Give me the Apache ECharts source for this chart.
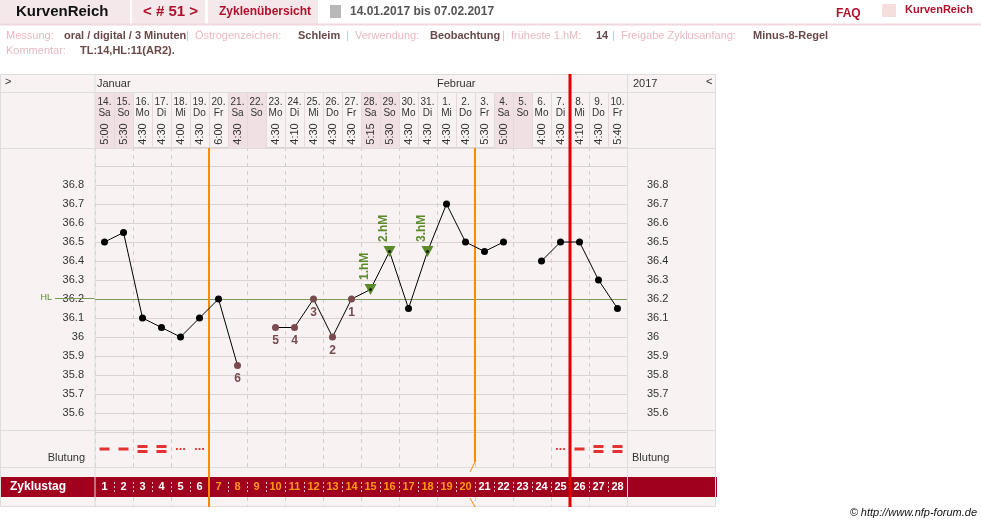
<!DOCTYPE html>
<html><head><meta charset="utf-8">
<script src="https://cdn.jsdelivr.net/npm/echarts@6/dist/echarts.min.js"></script>
<style>html,body{margin:0;padding:0;background:#fff}#c{width:981px;height:525px}</style>
</head><body><div id="c"></div>
<script>
const dates = ['14.','15.','16.','17.','18.','19.','20.','21.','22.','23.','24.','25.','26.','27.','28.','29.','30.','31.','1.','2.','3.','4.','5.','6.','7.','8.','9.','10.'];
const weekdays = ['Sa','So','Mo','Di','Mi','Do','Fr','Sa','So','Mo','Di','Mi','Do','Fr','Sa','So','Mo','Di','Mi','Do','Fr','Sa','So','Mo','Di','Mi','Do','Fr'];
const times = ['5:00','5:30','4:30','4:30','4:00','4:30','6:00','4:30','','4:30','4:10','4:30','4:30','4:30','5:15','5:30','4:30','4:30','4:30','4:30','5:30','5:00','','4:00','4:30','4:10','4:30','5:40'];
const cycleDays = ['1','2','3','4','5','6','7','8','9','10','11','12','13','14','15','16','17','18','19','20','21','22','23','24','25','26','27','28'];
const temps = [36.5,36.55,36.1,36.05,36.0,36.1,36.2,35.85,null,36.05,36.05,36.2,36.0,36.2,36.25,36.45,36.15,36.45,36.7,36.5,36.45,36.5,null,36.4,36.5,36.5,36.3,36.15];
const lowLabels = {7:'6',9:'5',10:'4',11:'3',12:'2',13:'1'};
const highLabels = {14:'1.hM',15:'2.hM',17:'3.hM'};
const bleeding = ['single','single','double','double','dots','dots','','','','','','','','','','','','','','','','','','','dots','single','double','double'];
const yTicks = [35.6,35.7,35.8,35.9,36.0,36.1,36.2,36.3,36.4,36.5,36.6,36.7,36.8];
const hl = 36.2;

const FONT = '"Liberation Sans Narrow","Liberation Sans",Arial,sans-serif';
const L = 95, W = 19, N = dates.length, R = L + W * N;
const cx = i => L + W * i + W / 2;
const ch = echarts.init(document.getElementById('c'));
const g = [];
const txt = (x, y, s, o, z) => g.push({type:'text', x, y, z: z||3, style:Object.assign({text:s, fill:'#333', font:'12px '+FONT, textVerticalAlign:'middle'}, o||{})});
const rect = (x, y, w, h, fill, z) => g.push({type:'rect', shape:{x,y,width:w,height:h}, style:{fill}, z: z||0});
const line = (x1,y1,x2,y2,stroke,lw,dash,z) => g.push({type:'line', shape:{x1,y1,x2,y2}, style:{stroke, lineWidth:lw||1, lineDash:dash||null}, z: z||5});

// page header
rect(0,0,130,24,'#f4e8ea'); rect(132,0,73,24,'#f4e8ea'); rect(208,0,110,24,'#f4e8ea');
line(0,24.5,981,24.5,'#f0d8dc',2);
txt(16,12,'KurvenReich',{font:'bold 15px '+FONT, fill:'#111'});
txt(143,12,'< # 51 >',{font:'bold 15px '+FONT, fill:'#b0102a'});
txt(219,12,'Zyklenübersicht',{font:'bold 12px '+FONT, fill:'#b0102a'});
rect(330,5,11,13,'#b8b8b8');
txt(350,12,'14.01.2017 bis 07.02.2017',{font:'bold 12px '+FONT, fill:'#555'});
txt(836,14,'FAQ',{font:'bold 12px '+FONT, fill:'#b0102a'});
rect(882,4,14,13,'#f6dede'); txt(905,10,'KurvenReich',{font:'bold 11px '+FONT, fill:'#b0102a'});
// info lines
const info1 = [['Messung:',6,1],['oral / digital / 3 Minuten',64,0],['|  Östrogenzeichen:',186,1],['Schleim',298,0],['|  Verwendung:',346,1],['Beobachtung',430,0],['|  früheste 1.hM:',502,1],['14',596,0],['|  Freigabe Zyklusanfang:',612,1],['Minus-8-Regel',753,0]];
info1.forEach(a=>txt(a[1],36,a[0],{font:(a[2]?'':'bold ')+'11px '+FONT, fill:a[2]?'#eab8c0':'#6b4848'}));
txt(6,51,'Kommentar:',{font:'11px '+FONT, fill:'#eab8c0'});
txt(80,51,'TL:14,HL:11(AR2).',{font:'bold 11px '+FONT, fill:'#6b4848'});

// chart panel
rect(0,74,716,433,'#f8f2f2',-1);
g.push({type:'rect',shape:{x:0.5,y:74.5,width:715,height:432},style:{fill:null,stroke:'#ddd'},z:6});
line(0,92.5,716,92.5,'#ddd',1); line(0,148.5,716,148.5,'#ddd',1);
line(0,430.5,716,430.5,'#ddd',1); line(0,467.5,716,467.5,'#ddd',1);
line(L,74,L,507,'#ddd',1); line(R+0.5,74,R+0.5,507,'#ddd',1);
txt(5,82,'>',{font:'11px '+FONT}); txt(706,82,'<',{font:'11px '+FONT});
txt(97,84,'Januar',{font:'11px '+FONT}); txt(437,84,'Februar',{font:'11px '+FONT}); txt(633,84,'2017',{font:'11px '+FONT});
dates.forEach((d,i)=>{
  const x = cx(i);
  if (weekdays[i]==='Sa' || weekdays[i]==='So') rect(L+W*i,93,W,55,'#f0e0e3',1);
  txt(x,102,d,{font:'10px '+FONT, textAlign:'center'});
  txt(x,113,weekdays[i],{font:'10px '+FONT, textAlign:'center'});
  if (times[i]) g.push({type:'text', x:x, y:134, rotation:Math.PI/2, style:{text:times[i], font:'11px '+FONT, fill:'#333', textAlign:'center', textVerticalAlign:'middle'}, z:3});
  if (i>0) line(L+W*i+0.5,93,L+W*i+0.5,148,'#e4dada',1,null,2);
});
// Blutung labels
txt(L-10,458,'Blutung',{font:'11px '+FONT, textAlign:'right'});
txt(R+5,458,'Blutung',{font:'11px '+FONT});
txt(52,298,'HL',{font:'9px '+FONT, fill:'#5a8a2a', textAlign:'right'});
// Zyklustag bar
rect(0,477,R+90,20,'#a0001e',3);
txt(10,487,'Zyklustag',{font:'bold 12px '+FONT, fill:'#fff'},4);
cycleDays.forEach((d,i)=>{
  const orange = i>=6 && i<=19;
  g.push({type:'text',x:cx(i),y:487,z:4,style:{text:d,font:'bold 11px '+FONT,fill:orange?'#ff9a1a':'#fff',textAlign:'center',textVerticalAlign:'middle'}});
  if (i>0) line(L+W*i+0.5,482,L+W*i+0.5,492,'#e8c0c8',1,[2,2],4);
});
// vertical marker lines
line(L+W*6,148,L+W*6,507,'#ff8a00',2,null,7);
line(L+W*20,148,L+W*20,462,'#ff8a00',2,null,7);
line(L+W*20,462,L+W*20-5,472,'#ff8a00',1,null,7);
line(L+W*20,507,L+W*20-5,498,'#ff8a00',1,null,7);
line(L+W*25,74,L+W*25,507,'#e00000',3,null,8);
line(55,298.5,L,298.5,'#7a9a5a',1,null,2);
// footer
txt(977,513,'© http://www.nfp-forum.de',{font:'italic 11px '+FONT, fill:'#111', textAlign:'right'});

const symTri = 'path://M0,0L10,0L5,9Z';
const pts = temps.map((v,i)=>{
  if (v===null) return null;
  if (highLabels[i]) return {value:v, symbol:symTri, symbolSize:[12,11], itemStyle:{color:'#5a8a2a'},
    label:{show:true, formatter:highLabels[i], position:'top', rotate:90, distance:4, align:'left', color:'#5a8a2a', fontWeight:'bold', fontSize:12, fontFamily:FONT}};
  if (lowLabels[i]) return {value:v, itemStyle:{color:'#7a4a4e'},
    label:{show:true, formatter:lowLabels[i], position:'bottom', color:'#7a4a4e', fontSize:12, fontWeight:'bold', fontFamily:FONT, distance:4}};
  return v;
});
const dotPts = temps.map((v,i)=> highLabels[i] ? v : null);
const symOf = {single:'path://M0,0H10V3H0Z', double:'path://M0,0H10V3H0Z M0,5H10V8H0Z', dots:'path://M0,0H2V2H0Z M4,0H6V2H4Z M8,0H10V2H8Z'};
const sizeOf = {single:[10,3], double:[10,8], dots:[9,2]};
const bleedData = bleeding.map((b,i)=> b ? {value:[i,0], symbol:symOf[b], symbolSize:sizeOf[b]} : null).filter(Boolean);

ch.setOption({
  animation:false,
  graphic:g,
  grid:[{left:L, right:981-R, top:147, bottom:525-432},{left:L, right:981-R, top:431, height:36},{left:L,right:981-R,top:497,height:10}],
  xAxis:[
    {type:'category', data:dates, gridIndex:0, axisLine:{show:false}, axisTick:{show:false}, axisLabel:{show:false},
     splitLine:{show:true, lineStyle:{color:'#d6cccc', type:[4,4]}}},
    {type:'category', data:dates, gridIndex:1, axisLine:{show:false}, axisTick:{show:false}, axisLabel:{show:false},
     splitLine:{show:true, lineStyle:{color:'#d6cccc', type:[4,4]}}},
    {type:'category', data:dates, gridIndex:2, axisLine:{show:false}, axisTick:{show:false}, axisLabel:{show:false},
     splitLine:{show:true, lineStyle:{color:'#d6cccc', type:[4,4]}}}
  ],
  yAxis:[
    {type:'value', gridIndex:0, min:35.5, max:37.0, interval:0.1, axisLine:{show:false}, axisTick:{show:false},
     axisLabel:{margin:11, color:'#333', fontSize:11, fontFamily:FONT, formatter:v=>{const r=Math.round(v*10)/10; return yTicks.includes(r)? String(r):'';}},
     splitLine:{show:true, lineStyle:{color:'#dcd2d2'}}},
    {type:'value', gridIndex:0, position:'right', min:35.5, max:37.0, interval:0.1, axisLine:{show:false}, axisTick:{show:false},
     axisLabel:{margin:20, color:'#333', fontSize:11, fontFamily:FONT, formatter:v=>{const r=Math.round(v*10)/10; return yTicks.includes(r)? String(r):'';}},
     splitLine:{show:false}},
    {type:'value', gridIndex:1, min:-1, max:1, show:false},
    {type:'value', gridIndex:2, min:-1, max:1, show:false}
  ],
  series:[
    {type:'line', xAxisIndex:0, yAxisIndex:0, data:pts, connectNulls:false, symbol:'circle', symbolSize:7,
     lineStyle:{color:'#000', width:1}, itemStyle:{color:'#000'}, z:10,
     markLine:{silent:true, symbol:'none', label:{show:false}, lineStyle:{color:'#7a9a5a', width:1, type:'solid'}, data:[{yAxis:hl}]}},
    {type:'scatter', xAxisIndex:0, yAxisIndex:0, data:dotPts, symbol:'circle', symbolSize:3, itemStyle:{color:'#000'}, z:12},
    {type:'scatter', xAxisIndex:1, yAxisIndex:2, data:bleedData, itemStyle:{color:'#e00000'}, z:10}
  ]
});
</script></body></html>
